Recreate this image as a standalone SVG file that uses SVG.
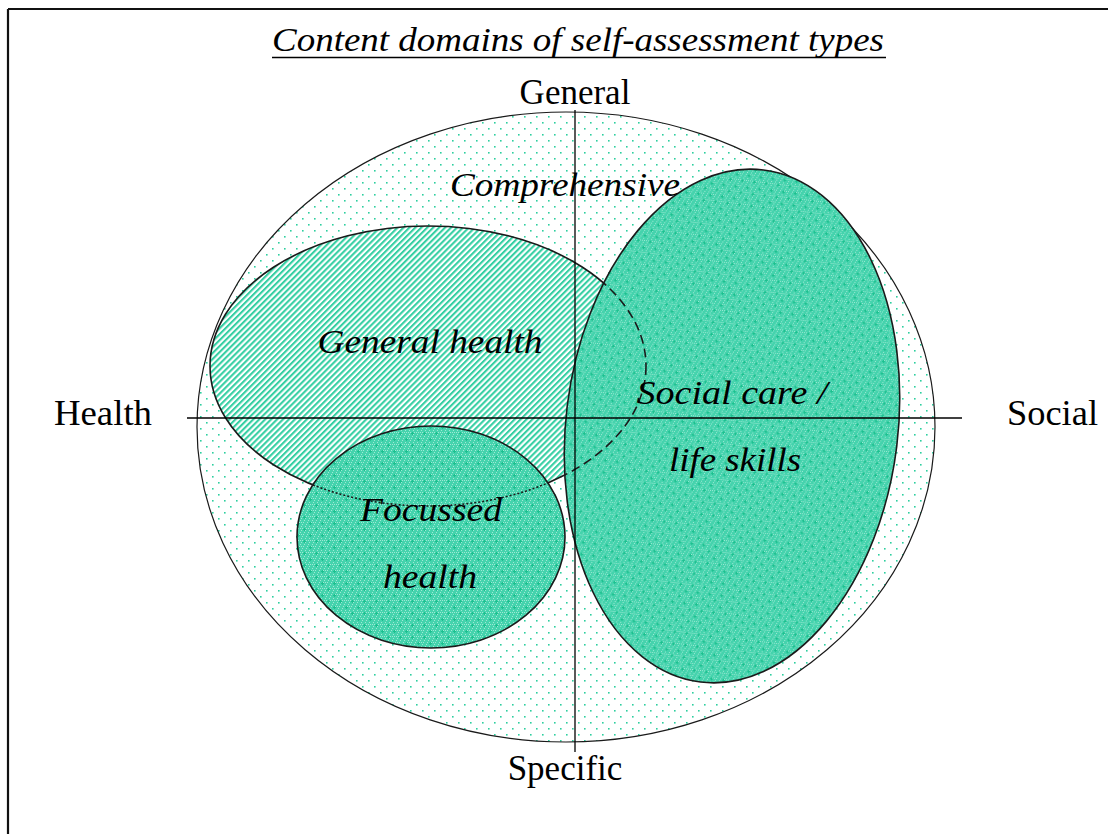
<svg xmlns="http://www.w3.org/2000/svg" width="1108" height="834" viewBox="0 0 1108 834">
  <style>
    .lbl { font-family: "Liberation Serif", "Times New Roman", serif; fill: #000; }
    .it { font-style: italic; }
    .edge { fill: none; stroke: #1a1a1a; stroke-width: 1.6; }
    .axis { stroke: #000; stroke-width: 1.3; fill: none; }
  </style>
  <defs>
    <!-- sparse teal dots for the outer domain -->
    <pattern id="dots" patternUnits="userSpaceOnUse" width="12" height="12">
      <rect width="12" height="12" fill="#ffffff"/>
      <rect x="2" y="2" width="1.6" height="1.6" fill="#2ecf9f"/>
      <rect x="8" y="8" width="1.6" height="1.6" fill="#2ecf9f"/>
    </pattern>
    <!-- diagonal teal hatching -->
    <pattern id="hatch" patternUnits="userSpaceOnUse" width="4.2" height="4.2" patternTransform="rotate(45)">
      <rect width="4.2" height="4.2" fill="#ffffff"/>
      <rect x="0" y="0" width="2.1" height="4.2" fill="#36cfa3"/>
    </pattern>
    <!-- dense teal fill with small plus marks -->
    <pattern id="dense" patternUnits="userSpaceOnUse" width="12" height="12">
      <rect width="12" height="12" fill="#45d3ad"/>
      <rect x="0" y="0" width="1" height="1" fill="#9fe9d4"/>
      <rect x="2" y="0" width="1" height="1" fill="#9fe9d4"/>
      <rect x="4" y="0" width="1" height="1" fill="#9fe9d4"/>
      <rect x="6" y="0" width="1" height="1" fill="#9fe9d4"/>
      <rect x="8" y="0" width="1" height="1" fill="#9fe9d4"/>
      <rect x="10" y="0" width="1" height="1" fill="#9fe9d4"/>
      <rect x="1" y="2" width="1" height="1" fill="#9fe9d4"/>
      <rect x="5" y="2" width="1" height="1" fill="#9fe9d4"/>
      <rect x="9" y="2" width="1" height="1" fill="#9fe9d4"/>
      <rect x="0" y="4" width="1" height="1" fill="#9fe9d4"/>
      <rect x="4" y="4" width="1" height="1" fill="#9fe9d4"/>
      <rect x="8" y="4" width="1" height="1" fill="#9fe9d4"/>
      <rect x="1" y="6" width="1" height="1" fill="#9fe9d4"/>
      <rect x="3" y="6" width="1" height="1" fill="#9fe9d4"/>
      <rect x="7" y="6" width="1" height="1" fill="#9fe9d4"/>
      <rect x="11" y="6" width="1" height="1" fill="#9fe9d4"/>
      <rect x="2" y="8" width="1" height="1" fill="#9fe9d4"/>
      <rect x="6" y="8" width="1" height="1" fill="#9fe9d4"/>
      <rect x="10" y="8" width="1" height="1" fill="#9fe9d4"/>
      <rect x="1" y="10" width="1" height="1" fill="#9fe9d4"/>
      <rect x="5" y="10" width="1" height="1" fill="#9fe9d4"/>
      <rect x="9" y="10" width="1" height="1" fill="#9fe9d4"/>
      <path d="M3 1.5h3M4.5 0v3M9 7.5h3M10.5 6v3" stroke="#1cc08f" stroke-width="1"/>
    </pattern>
    <clipPath id="clipSocial">
      <ellipse cx="732" cy="426" rx="166" ry="258" transform="rotate(7 732 426)"/>
    </clipPath>
    <clipPath id="clipFocus">
      <ellipse cx="431" cy="537" rx="134" ry="111"/>
    </clipPath>
  </defs>

  <rect width="1108" height="834" fill="#ffffff"/>

  <!-- frame: top and left rules -->
  <line x1="8" y1="9" x2="1108" y2="9" stroke="#111" stroke-width="2.2"/>
  <line x1="8" y1="9" x2="8" y2="834" stroke="#111" stroke-width="2.2"/>

  <!-- title -->
  <text class="lbl it" x="578" y="51" font-size="33" text-anchor="middle" textLength="612" lengthAdjust="spacingAndGlyphs">Content domains of self-assessment types</text>
  <line x1="272" y1="57.5" x2="886" y2="57.5" stroke="#000" stroke-width="1.5"/>

  <!-- outer domain -->
  <g id="comprehensive">
    <ellipse cx="566" cy="427" rx="369" ry="315" fill="url(#dots)" stroke="#1a1a1a" stroke-width="1.2"/>
  </g>

  <!-- general health -->
  <g id="general-health">
    <ellipse cx="428" cy="366" rx="218" ry="140" fill="url(#hatch)" class="edge" style="fill:url(#hatch)"/>
  </g>

  <!-- social care / life skills -->
  <g id="social-care">
    <ellipse cx="732" cy="426" rx="166" ry="258" transform="rotate(7 732 426)" style="fill:url(#dense)" class="edge"/>
  </g>

  <!-- general health outline where it passes under the social care area -->
  <g clip-path="url(#clipSocial)">
    <ellipse cx="428" cy="366" rx="218" ry="140" fill="none" stroke="#1a1a1a" stroke-width="1.6" stroke-dasharray="9 5"/>
  </g>

  <!-- focussed health -->
  <g id="focussed-health">
    <ellipse cx="431" cy="537" rx="134" ry="111" style="fill:url(#dense)" class="edge"/>
  </g>

  <!-- general health outline where it passes under focussed health -->
  <g clip-path="url(#clipFocus)">
    <ellipse cx="428" cy="366" rx="218" ry="140" fill="none" stroke="#1a1a1a" stroke-width="1.6" stroke-dasharray="2 2"/>
  </g>

  <!-- axes -->
  <g id="axes">
    <line class="axis" x1="187" y1="418" x2="962" y2="418"/>
    <line class="axis" x1="575" y1="110" x2="575" y2="752"/>
  </g>

  <!-- axis labels -->
  <text class="lbl" x="575" y="104" font-size="35" text-anchor="middle">General</text>
  <text class="lbl" x="565" y="780" font-size="35" text-anchor="middle">Specific</text>
  <text class="lbl" x="54" y="425" font-size="35" textLength="98" lengthAdjust="spacingAndGlyphs">Health</text>
  <text class="lbl" x="1007" y="425" font-size="35" textLength="91" lengthAdjust="spacingAndGlyphs">Social</text>

  <!-- domain labels -->
  <text class="lbl it" x="565" y="196" font-size="34" text-anchor="middle" textLength="230" lengthAdjust="spacingAndGlyphs">Comprehensive</text>
  <text class="lbl it" x="430" y="353" font-size="34" text-anchor="middle" textLength="225" lengthAdjust="spacingAndGlyphs">General health</text>
  <text class="lbl it" x="431" y="521" font-size="34" text-anchor="middle" textLength="142" lengthAdjust="spacingAndGlyphs">Focussed</text>
  <text class="lbl it" x="430" y="588" font-size="34" text-anchor="middle" textLength="94" lengthAdjust="spacingAndGlyphs">health</text>
  <text class="lbl it" x="732" y="404" font-size="34" text-anchor="middle" textLength="191" lengthAdjust="spacingAndGlyphs">Social care /</text>
  <text class="lbl it" x="735" y="471" font-size="34" text-anchor="middle" textLength="132" lengthAdjust="spacingAndGlyphs">life skills</text>
</svg>
